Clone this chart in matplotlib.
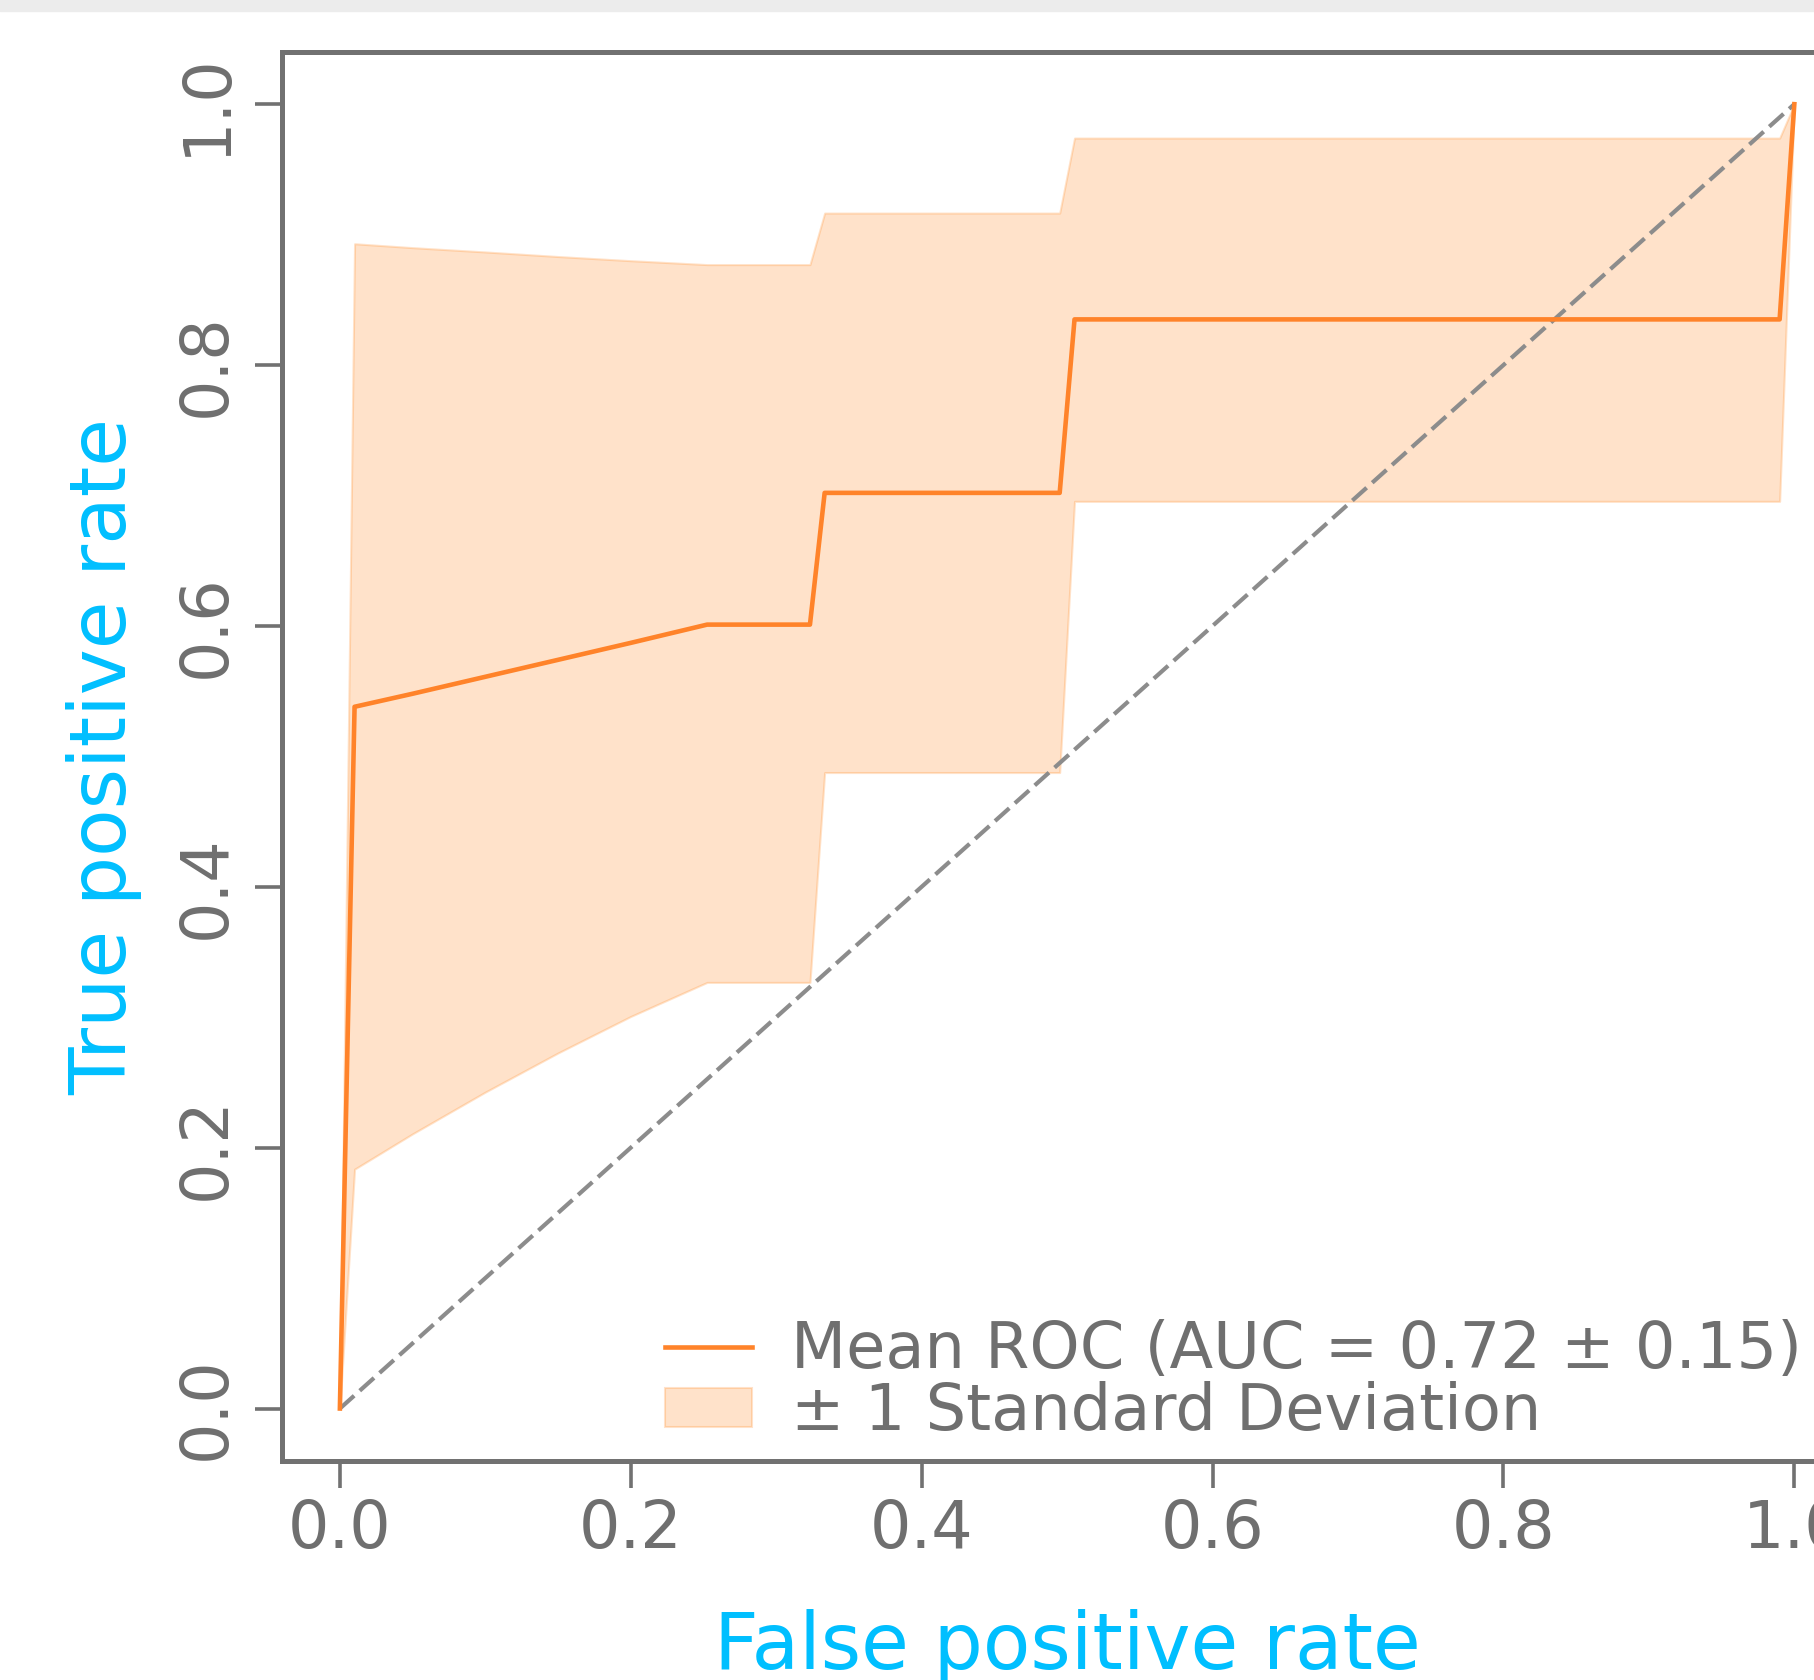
import matplotlib
matplotlib.use("Agg")
import matplotlib.pyplot as plt
from matplotlib.patches import Rectangle

# mean ROC (false positive rate grid)
mean_fpr = [0.0, 0.0101, 0.05, 0.10, 0.15, 0.20, 0.2525, 0.3232, 0.3333, 0.4949, 0.5051, 0.9899, 1.0]
mean_tpr = [0.0, 0.538, 0.548, 0.561, 0.574, 0.587, 0.601, 0.601, 0.702, 0.702, 0.835, 0.835, 1.0]
tpr_upper = [0.0, 0.893, 0.890, 0.8867, 0.8832, 0.880, 0.877, 0.877, 0.9165, 0.9165, 0.974, 0.974, 1.0]
tpr_lower = [0.0, 0.1835, 0.2106, 0.2426, 0.2726, 0.3006, 0.3267, 0.3267, 0.4876, 0.4876, 0.6955, 0.6955, 1.0]

chance_x = [0, 1]
chance_y = [0, 1]

tick_vals = [0.0, 0.2, 0.4, 0.6, 0.8, 1.0]
tick_labels = ["0.0", "0.2", "0.4", "0.6", "0.8", "1.0"]

mean_label = "Mean ROC (AUC = 0.72 \u00b1 0.15)"
std_label = "\u00b1 1 Standard Deviation"

GREY = "#717171"
TEXT = "#6f6f6f"
BLUE = "#00bfff"
ORANGE = "#ff832a"


def main():
    plt.rcParams['font.family'] = ['DejaVu Sans']
    W, H = 1814, 1680
    fig = plt.figure(figsize=(W / 100, H / 100), dpi=100)

    # thin grey strip at the top
    fig.patches.append(Rectangle((0, 1 - 11 / H), 1, 11 / H, transform=fig.transFigure,
                                 color="#ececec", zorder=0))

    # axes run past the right edge of the figure, as in the reference
    ax = fig.add_axes([281.7 / W, (H - 1460.7) / H, 1570.8 / W, 1408.7 / H])

    ax.fill_between(mean_fpr, tpr_lower, tpr_upper, color="#ff7f0e", alpha=0.22,
                    linewidth=1.5, label=std_label, zorder=1)
    ax.plot(chance_x, chance_y, color="#8c8c8c", lw=3.0, dashes=(4.6, 1.8), zorder=3)
    ax.plot(mean_fpr, mean_tpr, color=ORANGE, lw=3.3, label=mean_label, zorder=4)

    ax.set_xlim(-0.04, 1.04)
    ax.set_ylim(-0.04, 1.04)
    ax.set_xticks(tick_vals)
    ax.set_xticklabels(tick_labels)
    ax.set_yticks(tick_vals)
    ax.set_yticklabels(tick_labels)

    for s in ax.spines.values():
        s.set_color(GREY)
        s.set_linewidth(3.6)

    ax.tick_params(axis="both", direction="out", length=19.5, width=2.6, color=GREY,
                   labelsize=47, labelcolor=TEXT)
    ax.tick_params(axis="x", pad=7.7)
    ax.tick_params(axis="y", pad=11.5, labelrotation=90)
    for lab in ax.get_yticklabels():
        lab.set_va("center")

    ax.set_xlabel("False positive rate", fontsize=56, color=BLUE)
    ax.set_ylabel("True positive rate", fontsize=56, color=BLUE)
    ax.xaxis.set_label_coords(0.5, -0.1053)
    ax.yaxis.set_label_coords(-0.0888, 0.5)

    handles, labels = ax.get_legend_handles_labels()
    order = [labels.index(mean_label), labels.index(std_label)]
    ax.legend([handles[i] for i in order], [labels[i] for i in order],
              loc="lower left", bbox_to_anchor=(0.2438, 0.0126), borderaxespad=0,
              borderpad=0, frameon=False, fontsize=46, labelcolor=TEXT,
              handlelength=1.37, handleheight=0.55, handletextpad=0.6, labelspacing=0)

    fig.savefig("out.png", dpi=100)
    plt.close(fig)


if __name__ == "__main__":
    main()
